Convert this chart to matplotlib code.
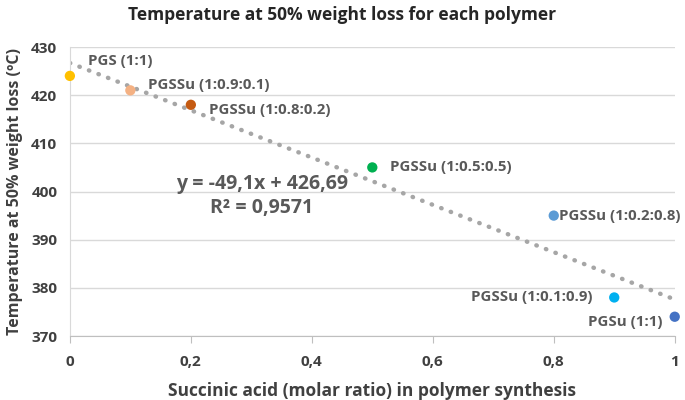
import matplotlib.pyplot as plt
import numpy as np

# data
names = ['PGS (1:1)', 'PGSSu (1:0.9:0.1)', 'PGSSu (1:0.8:0.2)', 'PGSSu (1:0.5:0.5)',
         'PGSSu (1:0.2:0.8)', 'PGSSu (1:0.1:0.9)', 'PGSu (1:1)']
succinic = [0, 0.1, 0.2, 0.5, 0.8, 0.9, 1.0]
temp_50 = [424, 421, 418, 405, 395, 378, 374]
colors = ['#FFC000', '#F4B183', '#C55A11', '#00B050', '#5B9BD5', '#00B0F0', '#4472C4']
slope = -49.1
intercept = 426.69
r2 = 0.9571

x_ticks = [0, 0.2, 0.4, 0.6, 0.8, 1]
x_tick_labels = ['0', '0,2', '0,4', '0,6', '0,8', '1']
y_ticks = [370, 380, 390, 400, 410, 420, 430]

plt.rcParams['font.family'] = ['Open Sans', 'DejaVu Sans']
plt.rcParams['font.weight'] = 'bold'
txt = '#595959'

fig = plt.figure(figsize=(6.85, 4), dpi=100)
ax = fig.add_axes([0.102, 0.16, 0.883, 0.7225])

# trendline
xl = np.linspace(0, 1, 40)
ax.plot(xl, slope * xl + intercept, linestyle=(0, (0.1, 2.2)), color='#A6A6A6',
        linewidth=3.2, dash_capstyle='round', zorder=2)

ax.scatter(succinic, temp_50, c=colors, s=55, zorder=3, edgecolors='none', clip_on=False)

# point labels (offsets in points)
offsets = [(13, 11, 'left'), (13, 3.5, 'left'), (13, -4, 'left'), (13, 0, 'left'),
           (4, 0, 'left'), (-16, 0, 'right'), (-9, -4, 'right')]
for n, x, y, (dx, dy, ha) in zip(names, succinic, temp_50, offsets):
    ax.annotate(n, (x, y), xytext=(dx, dy), textcoords='offset points',
                ha=ha, va='center', fontsize=10.8, fontweight='bold', color=txt)

ax.text(0.175, 401.5, 'y = -49,1x + 426,69', fontsize=14, fontweight='bold', color=txt,
        ha='left', va='center')
ax.text(0.232, 396.5, 'R² = 0,9571', fontsize=14, fontweight='bold', color=txt,
        ha='left', va='center')

ax.set_xlim(0, 1)
ax.set_ylim(370, 430)
ax.set_xticks(x_ticks)
ax.set_xticklabels(x_tick_labels)
ax.set_yticks(y_ticks)
ax.grid(axis='y', color='#D9D9D9', linewidth=1)
ax.set_axisbelow(True)
for s in ['top', 'right']:
    ax.spines[s].set_visible(False)
ax.spines['left'].set_color('#D9D9D9')
ax.spines['bottom'].set_color('#BFBFBF')
ax.tick_params(axis='y', length=0, pad=9, labelsize=11, labelcolor='#404040')
ax.tick_params(axis='x', length=5, color='#BFBFBF', pad=9, labelsize=11, labelcolor='#404040')
for lab in ax.get_xticklabels() + ax.get_yticklabels():
    lab.set_fontweight('bold')

ax.set_xlabel('Succinic acid (molar ratio) in polymer synthesis', fontsize=12.5,
              fontweight='bold', color='#404040', labelpad=9)
ax.set_ylabel('Temperature at 50% weight loss (ºC)', fontsize=11.5,
              fontweight='bold', color='#404040', labelpad=6)
fig.suptitle('Temperature at 50% weight loss for each polymer', fontsize=12.5,
             fontweight='bold', color='#262626', x=0.5, y=0.985)

fig.savefig('out.png', dpi=100)
